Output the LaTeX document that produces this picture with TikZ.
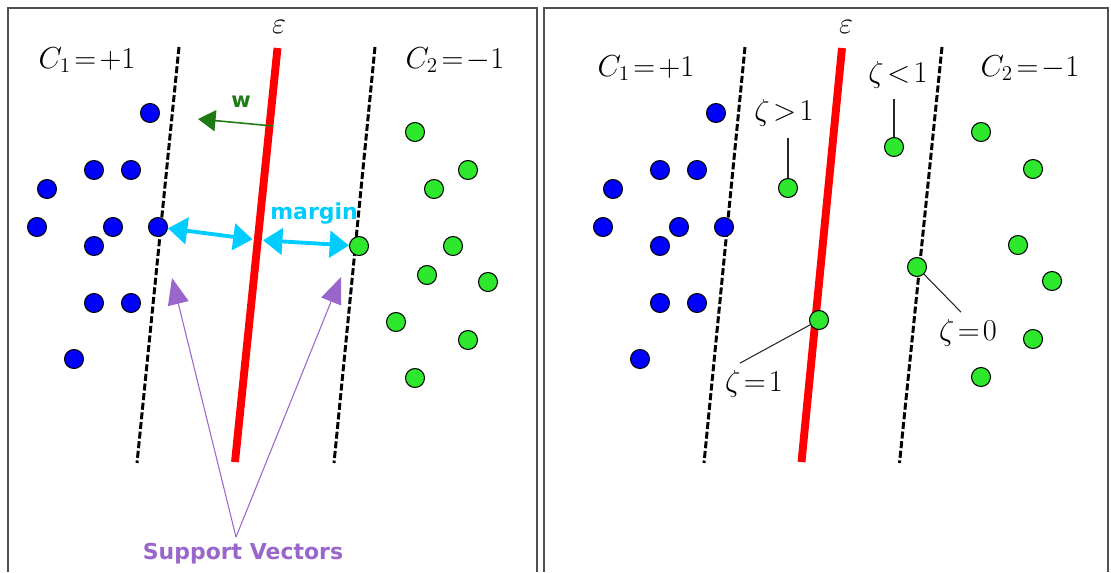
\documentclass[tikz,border=0pt]{standalone}
\usepackage{fontspec}
\setsansfont{DejaVu Sans}
\usetikzlibrary{arrows.meta}
\definecolor{svblue}{HTML}{0000FF}
\definecolor{svgreen}{HTML}{2EE82E}
\definecolor{svred}{HTML}{FF0000}
\definecolor{svcyan}{HTML}{00CCFF}
\definecolor{svpurple}{HTML}{9966CC}
\definecolor{svwgreen}{HTML}{1E7A12}
\definecolor{svframe}{HTML}{505050}

\begin{document}
\begin{tikzpicture}[x=0.02cm, y=-0.02cm,
      bdot/.style={circle, draw=black, line width=.6pt, fill=svblue, minimum size=.38cm, inner sep=0pt},
      gdot/.style={bdot, fill=svgreen},
      frame/.style={svframe, line width=1.1pt},
      sep/.style={black, line width=1.7pt, dash pattern=on 4pt off 1.5pt},
      hyp/.style={svred, line width=4.5pt},
      cls/.style={font=\fontsize{16.5}{19}\selectfont},
      eps/.style={font=\fontsize{16}{18}\selectfont},
      zlbl/.style={font=\fontsize{16}{18}\selectfont, inner sep=1pt},
      lead/.style={black!85, line width=.6pt},
      marg/.style={svcyan, line width=2.2pt, {Triangle[length=11pt,width=15pt]}-{Triangle[length=11pt,width=15pt]}},
      svarr/.style={svpurple, line width=.6pt, -{Triangle[length=15pt,width=12pt]}}]
      \useasboundingbox (0,0) rectangle (1111,572);

      % frames
      \draw[frame] (8,572) -- (8,8) -- (537,8) -- (537,572);
      \draw[frame] (544,572) -- (544,8) -- (1108,8) -- (1108,572);

      % ---- left: hard margin
      \node[cls] (c1a) at (87,60) {$C_1\!=\!+1$};
      \node[cls] (c2a) at (455,60) {$C_2\!=\!-1$};
      \node[eps] (epsa) at (279,27) {$\varepsilon$};
      \draw[sep] (179,47) -- (137,463);
      \draw[hyp] (277.5,48) -- (235,462);
      \draw[sep] (375,47) -- (334,463);

      \foreach \x/\y [count=\i] in {150/113, 94/170, 131/170, 47/189, 37/227, 113/227, 158/227, 94/246, 94/303, 131/303, 74/359}
        \node[bdot] (b\i) at (\x,\y) {};
      \foreach \x/\y [count=\i] in {415/132, 468/170, 434/189, 359/246, 453/246, 427/275, 488/282, 396/322, 468/340, 415/378}
        \node[gdot] (g\i) at (\x,\y) {};

      \coordinate (wo) at (273,126);
      \coordinate (wt) at (198,119);
      \draw[svwgreen, line width=.9pt, -{Triangle[length=10pt,width=12pt]}] (wo) -- (wt);
      \node[font=\sffamily\bfseries\fontsize{12}{14}\selectfont, text=svwgreen] (wlbl) at (241,102) {w};

      \coordinate (mid) at (257.8,240);
      \draw[marg, shorten >=3pt] (b7) -- (mid);
      \draw[marg, shorten <=3pt] (mid) -- (g4);
      \node[font=\sffamily\bfseries\fontsize{12.5}{14}\selectfont, text=svcyan] (mlbl) at (314,214) {margin};

      \node[font=\sffamily\bfseries\fontsize{12.5}{15}\selectfont, text=svpurple] (sv) at (243,554) {Support Vectors};
      \coordinate (ap) at (236,537);
      \coordinate (sv1) at (172,278);
      \coordinate (sv2) at (341,277);
      \draw[svarr] (ap) -- (sv1);
      \draw[svarr] (ap) -- (sv2);

      % ---- right: soft margin
      \node[cls] (c1b) at (646,68) {$C_1\!=\!+1$};
      \node[cls] (c2b) at (1030,68) {$C_2\!=\!-1$};
      \node[eps] (epsb) at (846,27) {$\varepsilon$};
      \draw[sep] (745,47) -- (704,463);
      \draw[hyp] (842,48) -- (801.5,462);
      \draw[sep] (942,47) -- (899.5,463);

      \foreach \x/\y [count=\i] in {150/113, 94/170, 131/170, 47/189, 37/227, 113/227, 158/227, 94/246, 94/303, 131/303, 74/359}
        \node[bdot] (rb\i) at (\x+566,\y) {};
      \foreach \x/\y [count=\i] in {788/188, 894/147, 981/132, 1033/169, 1018/245, 917/267, 1052/281, 819/320, 1033/339, 981/377}
        \node[gdot] (r\i) at (\x,\y) {};

      \node[zlbl] (zgt) at (784,113) {$\zeta\!>\!1$};
      \node[zlbl] (zlt) at (898,75) {$\zeta\!<\!1$};
      \node[zlbl] (zzr) at (968,333) {$\zeta\!=\!0$};
      \node[zlbl] (zon) at (754,384) {$\zeta\!=\!1$};
      \draw[lead, shorten >=5.5pt] (r1) -- (r1 |- zgt.south);
      \draw[lead, shorten >=5pt] (r2) -- (r2 |- zlt.south);
      \draw[lead] (r6) -- ([xshift=-4pt,yshift=3pt]zzr.north);
      \draw[lead] (r8) -- ([xshift=-8pt,yshift=3pt]zon.north);
    \end{tikzpicture}
\end{document}
